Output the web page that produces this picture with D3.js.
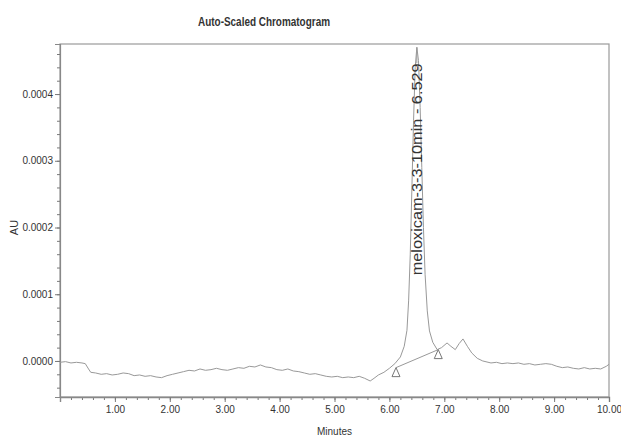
<!DOCTYPE html>
<html>
<head>
<meta charset="utf-8">
<script src="https://cdn.jsdelivr.net/npm/d3@7"></script>
<style>
  body { margin: 0; background: #fff; }
  text { font-family: "Liberation Sans", Arial, sans-serif; fill: #333; }
</style>
</head>
<body>
<div class="canvas"></div>
<script>
// chromatogram trace, minutes / AU
const times = [0.00, 0.10, 0.20, 0.30, 0.40, 0.46, 0.52, 0.56, 0.65, 0.75, 0.85, 0.95,
  1.05, 1.15, 1.25, 1.35, 1.45, 1.55, 1.65, 1.75, 1.85, 1.95, 2.05, 2.15, 2.25, 2.35,
  2.45, 2.55, 2.65, 2.75, 2.85, 2.95, 3.05, 3.15, 3.25, 3.35, 3.45, 3.55, 3.65, 3.75,
  3.85, 3.95, 4.05, 4.15, 4.25, 4.35, 4.45, 4.55, 4.65, 4.75, 4.85, 4.95, 5.05, 5.15,
  5.25, 5.35, 5.45, 5.55, 5.65, 5.72, 5.80, 5.90, 6.00, 6.10, 6.20, 6.27, 6.32, 6.35,
  6.38, 6.41, 6.44, 6.47, 6.50, 6.53, 6.56, 6.59, 6.62, 6.65, 6.69, 6.73, 6.79, 6.87,
  6.95, 7.05, 7.12, 7.20, 7.27, 7.34, 7.42, 7.50, 7.60, 7.70, 7.85, 7.95, 8.05, 8.15,
  8.25, 8.35, 8.45, 8.55, 8.65, 8.75, 8.85, 8.95, 9.05, 9.15, 9.25, 9.35, 9.45, 9.55,
  9.65, 9.75, 9.85, 9.95, 10.00];
const signal = [-0.000002, -0.000001, -0.000003, -0.000002, -0.000003, -0.000004, -0.000012, -0.000017, -0.000018, -0.000020, -0.000019, -0.000021,
  -0.000020, -0.000018, -0.000019, -0.000022, -0.000021, -0.000023, -0.000022, -0.000024, -0.000025, -0.000022, -0.000020, -0.000018, -0.000016, -0.000014,
  -0.000015, -0.000012, -0.000014, -0.000013, -0.000011, -0.000013, -0.000014, -0.000012, -0.000010, -0.000011, -0.000008, -0.000009, -0.000006, -0.000009,
  -0.000010, -0.000013, -0.000014, -0.000012, -0.000015, -0.000016, -0.000018, -0.000020, -0.000019, -0.000021, -0.000023, -0.000024, -0.000023, -0.000025,
  -0.000024, -0.000025, -0.000023, -0.000026, -0.000030, -0.000026, -0.000021, -0.000017, -0.000011, -0.000004, 0.000006, 0.000022, 0.000046, 0.000090,
  0.000160, 0.000260, 0.000360, 0.000440, 0.000470, 0.000450, 0.000380, 0.000290, 0.000200, 0.000130, 0.000075, 0.000045, 0.000028, 0.000017,
  0.000020, 0.000027, 0.000022, 0.000017, 0.000026, 0.000033, 0.000022, 0.000012, 0.000004, 0.000000, -0.000003, -0.000002, -0.000004, -0.000003,
  -0.000004, -0.000003, -0.000005, -0.000004, -0.000006, -0.000005, -0.000004, -0.000005, -0.000008, -0.000010, -0.000009, -0.000011, -0.000012, -0.000010,
  -0.000012, -0.000011, -0.000012, -0.000008, -0.000005];

// peak annotation and integration baseline
const peakLabel = 'meloxicam-3-3-10min - 6.529';
const peakTime = 6.50;
const peakTop = 0.000470;
const baseTimes = [6.12, 6.89];
const baseValues = [-0.000010, 0.000017];

const xTicks = [1, 2, 3, 4, 5, 6, 7, 8, 9, 10];
const yTicks = [0, 0.0001, 0.0002, 0.0003, 0.0004];

const dims = { width: 621, height: 439 };
const margin = { top: 44, right: 12, bottom: 42, left: 60 };

const svg = d3.select('.canvas')
    .append('svg')
    .attr('width', dims.width)
    .attr('height', dims.height);

const x = d3.scaleLinear()
    .domain([0, 10])
    .range([margin.left, dims.width - margin.right]);

const y = d3.scaleLinear()
    .domain([-0.000054, 0.000475])
    .range([dims.height - margin.bottom, margin.top]);

const axisColor = '#7a7a7a';

// frame
svg.append('rect')
    .attr('x', x(0))
    .attr('y', y.range()[1])
    .attr('width', x(10) - x(0))
    .attr('height', y.range()[0] - y.range()[1])
    .attr('fill', 'none')
    .attr('stroke', '#9a9a9a')
    .attr('stroke-width', 1.2);

// x axis, minor then major
svg.append('g')
    .attr('transform', `translate(0, ${y.range()[0]})`)
    .call(d3.axisBottom(x).tickValues(d3.range(0.2, 10, 0.2)).tickSize(3).tickFormat(''))
    .call(g => g.select('.domain').remove())
    .selectAll('line').attr('stroke', axisColor);

svg.append('g')
    .attr('transform', `translate(0, ${y.range()[0]})`)
    .call(d3.axisBottom(x).tickValues(xTicks).tickSize(5).tickPadding(4).tickFormat(d3.format('.2f')))
    .call(g => g.select('.domain').attr('stroke', '#888').attr('stroke-width', 1.4))
    .call(g => g.selectAll('line').attr('stroke', axisColor))
    .call(g => g.selectAll('text').attr('font-size', 10).attr('fill', '#333')
        .attr('font-family', '"Liberation Sans", Arial, sans-serif'));

// y axis
svg.append('g')
    .attr('transform', `translate(${x(0)}, 0)`)
    .call(d3.axisLeft(y).tickValues(d3.range(-0.00004, 0.00047, 0.00002)).tickSize(3).tickFormat(''))
    .call(g => g.select('.domain').remove())
    .selectAll('line').attr('stroke', axisColor);

svg.append('g')
    .attr('transform', `translate(${x(0)}, 0)`)
    .call(d3.axisLeft(y).tickValues(yTicks).tickSize(5).tickPadding(2).tickFormat(d3.format('.4f')))
    .call(g => g.select('.domain').attr('stroke', '#888').attr('stroke-width', 1.2))
    .call(g => g.selectAll('line').attr('stroke', axisColor))
    .call(g => g.selectAll('text').attr('font-size', 10).attr('fill', '#333')
        .attr('font-family', '"Liberation Sans", Arial, sans-serif'));

// trace
const line = d3.line()
    .x((d, i) => x(times[i]))
    .y(d => y(d));

svg.append('path')
    .datum(signal)
    .attr('d', line)
    .attr('fill', 'none')
    .attr('stroke', '#999')
    .attr('stroke-width', 1);

// integration baseline + markers
svg.append('line')
    .attr('x1', x(baseTimes[0])).attr('y1', y(baseValues[0]))
    .attr('x2', x(baseTimes[1])).attr('y2', y(baseValues[1]))
    .attr('stroke', '#999');

svg.selectAll('.marker')
    .data(baseTimes)
    .enter()
    .append('path')
        .attr('class', 'marker')
        .attr('d', (d, i) => {
            const px = x(d), py = y(baseValues[i]);
            return `M${px},${py}L${px - 4},${py + 9}L${px + 4},${py + 9}Z`;
        })
        .attr('fill', 'none')
        .attr('stroke', '#777');

// peak label
const labelX = x(peakTime);
const labelEnd = y(peakTop) + 16;
svg.append('line')
    .attr('x1', labelX).attr('y1', y(peakTop))
    .attr('x2', labelX).attr('y2', labelEnd)
    .attr('stroke', '#999');

svg.append('text')
    .attr('transform', `translate(${labelX}, ${labelEnd}) rotate(-90)`)
    .attr('text-anchor', 'end')
    .attr('dominant-baseline', 'central')
    .attr('font-size', 14)
    .attr('textLength', 212)
    .attr('lengthAdjust', 'spacingAndGlyphs')
    .attr('fill', '#333')
    .text(peakLabel);

// title and axis labels
svg.append('text')
    .attr('x', 264).attr('y', 26)
    .attr('text-anchor', 'middle')
    .attr('font-size', 13)
    .attr('font-weight', 'bold')
    .attr('fill', '#222')
    .attr('textLength', 132)
    .attr('lengthAdjust', 'spacingAndGlyphs')
    .text('Auto-Scaled Chromatogram');

svg.append('text')
    .attr('transform', `translate(18, ${y(0.0002)}) rotate(-90)`)
    .attr('text-anchor', 'middle')
    .attr('font-size', 11)
    .text('AU');

svg.append('text')
    .attr('x', x(5)).attr('y', 435)
    .attr('text-anchor', 'middle')
    .attr('font-size', 10)
    .text('Minutes');
</script>
</body>
</html>
